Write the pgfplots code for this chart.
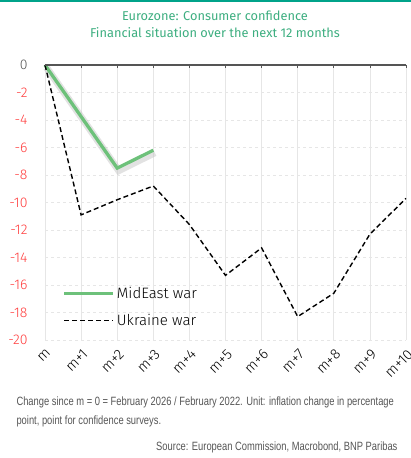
\documentclass[border=0pt]{standalone}
\usepackage{pgfplots}
\pgfplotsset{compat=1.18}
\usepackage{fontspec}
\setmainfont{Fira Sans}
\newfontfamily\condfont[FakeStretch=0.78]{Liberation Sans}
\newfontfamily\tickfont{Fira Sans Light}
\newcommand{\tl}[1]{\mbox{\tickfont\fontsize{14}{16}\selectfont #1}}
\newcommand{\xl}[1]{\mbox{\tickfont\fontsize{14.5}{17}\selectfont #1}}
\definecolor{teal}{HTML}{00A38A}
\definecolor{titlegreen}{HTML}{3DAE80}
\definecolor{midgreen}{HTML}{6DC17A}
\definecolor{tickred}{HTML}{FF3B3B}
\definecolor{darkgrey}{HTML}{555555}
\definecolor{gridgrey}{HTML}{E6E6E6}
\begin{document}
\begin{tikzpicture}
\useasboundingbox (0pt,0pt) rectangle (411pt,458pt);
\fill[teal] (0pt,456pt) rectangle (411pt,458.5pt);
\node[text=titlegreen, font=\fontsize{12.8}{15}\selectfont] at (215pt,442pt) {Eurozone: Consumer confidence};
\node[text=titlegreen, font=\fontsize{12.8}{15}\selectfont] at (215pt,425pt) {Financial situation over the next 12 months};
\begin{axis}[
  at={(45pt,118pt)}, anchor=south west,
  scale only axis, width=361pt, height=275pt,
  xmin=0, xmax=10, ymin=-20, ymax=0,
  xtick={0,...,10},
  xticklabels={\xl{m},\xl{m+1},\xl{m+2},\xl{m+3},\xl{m+4},\xl{m+5},\xl{m+6},\xl{m+7},\xl{m+8},\xl{m+9},\xl{m+10}},
  ytick={0,-2,...,-20},
  yticklabels={\tl{\textcolor{darkgrey}{0}},\tl{-2},\tl{-4},\tl{-6},\tl{-8},\tl{-10},\tl{-12},\tl{-14},\tl{-16},\tl{-18},\tl{-20}},
  yticklabel style={text=tickred, xshift=-14pt},
  xticklabel style={rotate=45, anchor=north east, text=black, xshift=-2pt, yshift=-3pt},
  axis line style={draw=none},
  xtick pos=upper, xticklabel pos=lower,
  tick align=inside, major tick length=3pt,
  xtick style={draw=darkgrey, thick},
  ytick style={draw=none},
  xmajorgrids, ymajorgrids,
  x grid style={gridgrey, line width=0.8pt},
  y grid style={gridgrey, dashed, line width=0.8pt},
  legend style={at={(0.04,0.207)}, anchor=north west, draw=none, fill=none, font=\tickfont\fontsize{15}{17}\selectfont, row sep=10pt},
  legend cell align=left,
  legend image code/.code={\draw[#1] (0pt,0pt) -- (49pt,0pt);},
  clip=false,
]
\addplot[gray!45, line width=7pt, opacity=0.5, shift={(1.5pt,-2.5pt)}, forget plot] coordinates {(0,0) (1,-3.75) (2,-7.5) (3,-6.2)};
\addplot[midgreen, line width=3.3pt] coordinates {(0,0) (1,-3.75) (2,-7.5) (3,-6.2)};
\addlegendentry{MidEast war}
\addplot[black, line width=1.4pt, dash pattern=on 5pt off 3pt] coordinates {(0,0) (1,-10.9) (2,-9.8) (3,-8.8) (4,-11.6) (5,-15.3) (6,-13.3) (7,-18.3) (8,-16.6) (9,-12.3) (10,-9.7)};
\addlegendentry{Ukraine war}
\draw[darkgrey, line width=1.5pt] (axis cs:0,0) -- (axis cs:10,0);
\end{axis}
\node[anchor=base west, font=\condfont\fontsize{12}{14}\selectfont, text=darkgrey] at (13pt,52pt) {Change since m = 0 = February 2026 / February 2022. Unit: inflation change in percentage};
\node[anchor=base west, font=\condfont\fontsize{12}{14}\selectfont, text=darkgrey] at (13pt,34pt) {point, point for confidence surveys.};
\node[anchor=base east, font=\condfont\fontsize{12}{14}\selectfont, text=darkgrey] at (401pt,8pt) {Source: European Commission, Macrobond, BNP Paribas};
\end{tikzpicture}
\end{document}
